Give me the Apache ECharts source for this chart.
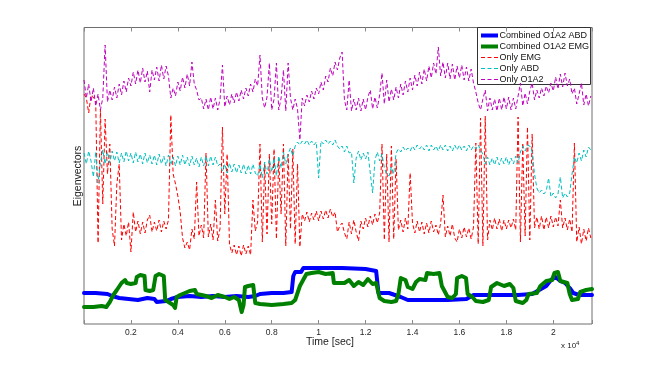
<!DOCTYPE html>
<html><head><meta charset="utf-8">
<script src="https://cdn.jsdelivr.net/npm/echarts@6/dist/echarts.min.js"></script>
<style>html,body{margin:0;padding:0;background:#fff}#c{width:654px;height:365px}</style>
</head><body><div id="c"></div>
<script>
// Sample spacing (seconds) of the single-lead eigenvector traces
const STEP = 100;

// Only O1A2 (magenta, dashed) — one value per STEP seconds
const onlyO1A2 = [
 244,226,240,222,236,218,230,214,226,279,
 222,234,224,237,226,240,229,243,232,246,
 238,252,240,254,241,256,242,253,232,254,
 244,257,243,259,245,258,248,226,236,228,
 242,233,247,236,250,238,262,240,234,224,
 226,215,225,214,227,215,226,214,225,259,
 217,228,219,230,221,232,223,234,225,236,
 228,240,232,245,238,269,226,216,227,261,
 214,225,261,214,226,254,213,261,226,214,
 225,215,184,226,218,229,222,233,225,236,
 230,242,234,248,242,256,248,262,254,266,
 272,224,214,244,213,225,214,226,213,225,
 214,227,234,215,227,216,229,251,220,244,
 222,235,224,237,226,240,229,243,232,246,
 234,249,238,252,240,255,243,258,246,261,
 250,277,248,262,246,261,245,260,244,258,
 246,259,244,257,243,255,241,232,221,214,
 225,234,213,226,214,225,213,226,214,227,
 215,227,214,226,215,228,241,218,231,220,
 233,241,224,234,226,236,228,238,231,241,
 233,247,235,250,237,251,238,245,230,236,
 220,230,241,219,230,218,228
];

// Only EMG (red, dashed)
const onlyEMG = [
 230,226,211,229,227,222,81,215,120,205,
 150,180,95,78,140,160,84,100,88,102,
 72,112,92,103,90,102,91,104,109,92,
 102,93,104,92,103,95,104,209,150,140,
 128,112,86,76,82,74,95,85,142,88,
 99,86,171,87,100,84,124,83,96,197,
 110,170,80,71,79,69,78,68,79,70,
 78,69,124,93,102,180,82,160,90,170,
 100,175,85,165,110,180,78,170,95,175,
 80,160,77,110,103,112,102,111,104,113,
 103,113,105,114,106,115,107,112,92,98,
 101,91,85,102,90,104,92,83,103,95,
 106,97,108,99,110,101,111,180,84,170,
 82,178,85,165,94,104,92,106,95,151,
 101,91,103,92,102,90,101,91,103,92,
 99,89,101,129,87,98,88,100,86,82,
 95,86,97,87,96,85,97,181,80,206,
 78,208,84,104,94,106,95,105,93,104,
 95,104,96,105,94,207,82,181,88,197,
 84,190,96,107,95,108,94,107,96,108,
 97,107,98,124,96,106,94,105,92,181,
 82,97,80,95,83,96,86
];

// Only ABD (cyan, dashed)
const onlyABD = [
 171,160,173,163,147,172,141,161,174,160,
 172,161,173,163,172,161,171,162,173,163,
 171,161,172,162,170,160,171,161,169,160,
 169,159,170,160,168,158,169,159,167,158,
 168,159,169,159,167,158,168,159,166,157,
 167,158,168,158,168,159,167,158,160,153,
 160,151,161,152,160,151,159,151,160,150,
 159,150,160,151,148,160,146,162,150,165,
 152,166,148,168,156,172,160,170,176,168,
 178,182,179,183,180,184,179,183,179,182,
 146,183,180,184,180,183,179,184,178,175,
 178,172,178,171,172,141,166,173,164,171,
 165,172,151,131,164,172,163,170,156,150,
 148,157,150,171,175,172,177,173,176,173,
 178,174,179,175,178,174,179,173,179,174,
 178,173,179,174,179,173,178,173,179,174,
 179,174,178,173,179,174,178,175,179,174,
 170,160,167,159,166,159,167,159,166,160,
 167,159,166,160,168,161,172,178,173,179,
 178,172,150,136,131,134,130,133,146,127,
 131,126,130,147,126,131,127,131,150,167,
 161,171,163,174,167,177,174
];

// Combined O1A2 ABD (blue) — [time s, value]
const combinedABD = [
 [0,31],[500,31],[1000,30],[1200,28],[1500,26],[1900,25],[2300,24],[2500,25],[2700,26],[3000,25],
 [3100,22],[3500,23],[3700,25],[4000,27],[4500,28],[5000,27],[5500,28],[6000,27],[6500,28],[7000,27],
 [7300,28],[7500,30],[8000,31],[8500,31],[8850,32],[8920,48],[9000,52],[9250,52],[9350,56],[10000,56],
 [11000,56],[12000,55],[12450,53],[12550,31],[13000,31],[13500,27],[13800,24],[14500,24],[15500,24],[16300,25],
 [16600,29],[17500,29],[18500,29],[19100,30],[19400,34],[19700,38],[19900,44],[20100,47],[20300,43],[20500,41],
 [20700,36],[20850,31],[21100,29],[21650,29]
];

// Combined O1A2 EMG (green) — [time s, value]
const combinedEMG = [
 [0,17],[400,17],[750,18],[950,17],[1100,22],[1250,29],[1400,34],[1600,41],[1750,44],[1820,41],
 [2000,40],[2200,41],[2250,47],[2400,49],[2580,48],[2620,34],[2800,33],[2950,34],[3050,48],[3200,50],
 [3400,48],[3460,24],[3600,22],[3800,19],[3880,16],[3950,27],[4100,29],[4300,31],[4500,33],[4730,34],
 [4800,30],[5010,29],[5200,28],[5440,26],[5700,29],[6000,27],[6200,25],[6400,27],[6600,24],[6720,12],
 [6800,19],[6860,37],[7000,38],[7210,39],[7300,21],[7500,20],[8000,19],[8500,20],[8850,21],[9000,24],
 [9200,38],[9480,50],[9700,51],[10000,52],[10300,50],[10600,51],[10650,41],[11100,41],[11300,44],[11500,38],
 [11700,42],[11900,39],[12100,45],[12300,40],[12450,41],[12600,26],[12800,23],[13100,22],[13300,23],[13400,30],
 [13500,46],[13700,44],[13800,37],[14000,35],[14150,42],[14300,45],[14550,44],[14620,51],[14900,50],[15150,51],
 [15250,38],[15500,27],[15700,26],[15850,30],[15900,46],[16100,48],[16280,46],[16350,30],[16550,27],[16700,23],
 [17000,22],[17250,24],[17350,37],[17600,41],[17900,38],[18150,40],[18300,36],[18400,23],[18700,21],[18850,24],
 [18950,30],[19300,31],[19450,38],[19700,43],[19950,44],[20050,51],[20200,52],[20300,43],[20600,41],[20700,30],
 [20800,24],[21050,25],[21150,32],[21400,34],[21650,35]
];

const xTickValues = [2000,4000,6000,8000,10000,12000,14000,16000,18000,20000];
const xTickLabels = ['0.2','0.4','0.6','0.8','1','1.2','1.4','1.6','1.8','2'];
const seriesNames = ['Combined O1A2 ABD','Combined O1A2 EMG','Only EMG','Only ABD','Only O1A2'];

const toPairs = arr => arr.map((v, i) => [i * STEP, v]);
const FONT = "'Liberation Sans', Arial, Helvetica, sans-serif";
const dash = [4, 2.5];
const styles = [
  {color: '#0000ff', width: 4, type: 'solid'},
  {color: '#008000', width: 4, type: 'solid'},
  {color: '#ff0000', width: 1, type: dash},
  {color: '#00bfbf', width: 1, type: dash},
  {color: '#bf00bf', width: 1, type: dash}
];
const seriesData = [combinedABD, combinedEMG, toPairs(onlyEMG), toPairs(onlyABD), toPairs(onlyO1A2)];

const chart = echarts.init(document.getElementById('c'), null, {renderer: 'canvas'});
const tickAxis = (pos, labels) => ({
  type: 'value', position: pos, min: 0, max: 21650, interval: 2000,
  axisLine: {show: false},
  splitLine: {show: false},
  axisTick: {show: true, inside: true, length: 4, lineStyle: {color: '#8a8a8a', width: 1}},
  axisLabel: labels ? {
    show: true, margin: 4, fontSize: 8.5, fontFamily: FONT, color: '#262626',
    formatter: v => { const k = xTickValues.indexOf(v); return k >= 0 ? xTickLabels[k] : ''; }
  } : {show: false}
});

// legend drawn as graphic so its line samples match the plotted lines
const legendEls = [{type: 'rect', shape: {x: 477.5, y: 27.5, width: 113, height: 57}, style: {fill: '#fff', stroke: '#333', lineWidth: 1}}];
seriesNames.forEach((n, i) => {
  const y = 35.5 + i * 11;
  const s = styles[i];
  legendEls.push({type: 'line', shape: {x1: 481, y1: y, x2: 498, y2: y},
    style: {stroke: s.color, lineWidth: s.width, lineDash: s.type === 'solid' ? null : s.type}});
  legendEls.push({type: 'text', x: 499.5, y: y, style: {text: n, font: '9px ' + FONT, fill: '#111', align: 'left', verticalAlign: 'middle'}});
});

chart.setOption({
  animation: false,
  backgroundColor: '#fff',
  grid: {left: 84, right: 62, top: 27.5, bottom: 41, show: true, borderColor: '#6e6e6e', borderWidth: 1, backgroundColor: 'transparent'},
  xAxis: [tickAxis('bottom', true), tickAxis('top', false)],
  yAxis: {type: 'value', min: 0, max: 296.5, axisLine: {show: false}, axisTick: {show: false}, axisLabel: {show: false}, splitLine: {show: false}},
  graphic: [
    {type: 'text', x: 330, y: 342, style: {text: 'Time [sec]', font: '10.5px ' + FONT, fill: '#222', align: 'center', verticalAlign: 'middle'}},
    {type: 'text', x: 561, y: 346, style: {text: 'x 10{s|4}', font: '8px ' + FONT, fill: '#222', align: 'left', verticalAlign: 'middle', rich: {s: {fontSize: 6, fontFamily: FONT, fill: '#222', verticalAlign: 'top', padding: [0,0,6,0]}}}},
    {type: 'text', x: 78, y: 176, rotation: Math.PI / 2, style: {text: 'Eigenvectors', font: '10.5px ' + FONT, fill: '#222', align: 'center', verticalAlign: 'middle'}},
    {type: 'group', z: 100, children: legendEls}
  ],
  series: seriesNames.map((n, i) => ({
    name: n, type: 'line', data: seriesData[i], symbol: 'none', clip: true,
    lineStyle: {color: styles[i].color, width: styles[i].width, type: styles[i].type, join: 'round', cap: i < 2 ? 'round' : 'butt'},
    itemStyle: {color: styles[i].color}
  }))
});
</script>
</body></html>
